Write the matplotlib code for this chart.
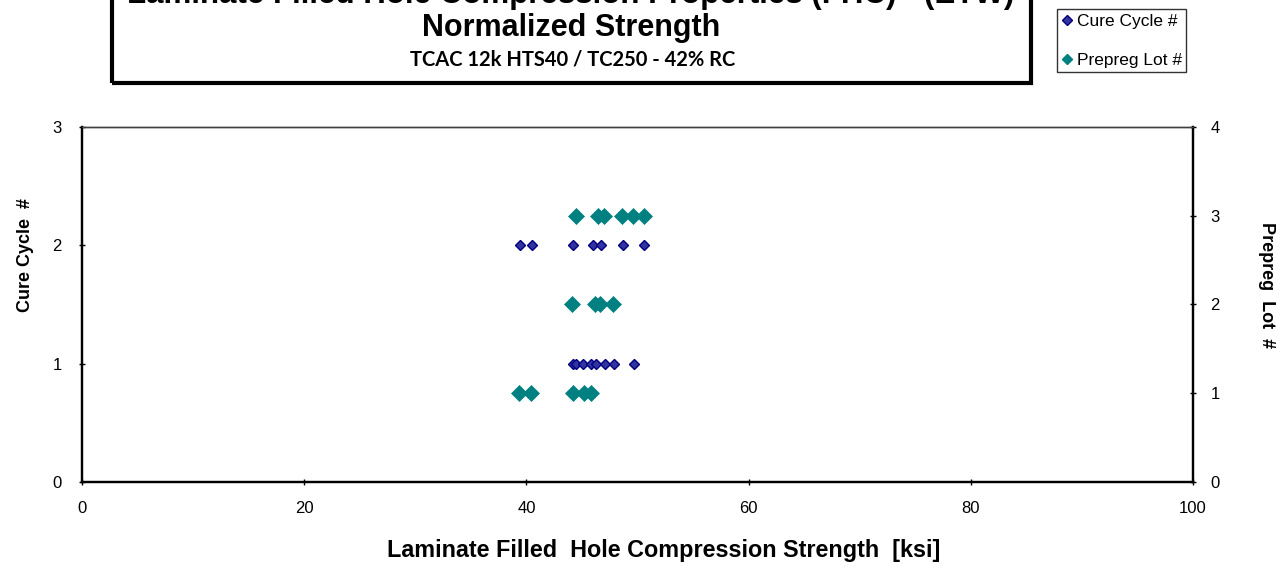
import matplotlib
matplotlib.use("Agg")
import matplotlib.pyplot as plt
from matplotlib.patches import Rectangle
from matplotlib.lines import Line2D

# ---- data ----
cure1_x = [44.2, 44.5, 45.1, 45.8, 46.3, 47.1, 47.9, 49.7]
cure2_x = [39.4, 40.5, 44.2, 46.0, 46.7, 48.7, 50.6]
lot1_x = [39.3, 40.4, 44.2, 45.2, 45.8]
lot2_x = [44.1, 46.2, 46.6, 47.8]
lot3_x = [44.5, 46.4, 47.0, 48.6, 49.6, 50.6]

cure_x = cure1_x + cure2_x
cure_y = [1] * len(cure1_x) + [2] * len(cure2_x)
lot_x = lot1_x + lot2_x + lot3_x
lot_y = [1] * len(lot1_x) + [2] * len(lot2_x) + [3] * len(lot3_x)

x_ticks = [0, 20, 40, 60, 80, 100]
left_ticks = [0, 1, 2, 3]
right_ticks = [0, 1, 2, 3, 4]

title1 = "Laminate Filled Hole Compression Properties (FHC) - (ETW)"
title2 = "Normalized Strength"
subtitle = "TCAC 12k HTS40 / TC250 - 42% RC"
xlabel = "Laminate Filled  Hole Compression Strength  [ksi]"
ylabel_left = "Cure Cycle  #"
ylabel_right = "Prepreg  Lot  #"
legend_labels = ["Cure Cycle #", "Prepreg Lot #"]

plt.rcParams['font.family'] = ['Liberation Sans', 'DejaVu Sans']

W, H = 1283, 570
fig = plt.figure(figsize=(W / 100, H / 100), dpi=100)
AXW, AXH = 1193 - 82, 482 - 127
ax = fig.add_axes([82 / W, 1 - 482 / H, AXW / W, AXH / H])
ax2 = ax.twinx()

navy_edge = '#000080'
navy_fill = '#3333a0'
teal = '#008080'

ax.plot(cure_x, cure_y, linestyle='none', marker='D', markersize=5.6,
        markerfacecolor=navy_fill, markeredgecolor=navy_edge, markeredgewidth=1.0,
        zorder=3)
ax2.plot(lot_x, lot_y, linestyle='none', marker='D', markersize=8.3,
         markerfacecolor=teal, markeredgecolor=teal, markeredgewidth=0.5,
         zorder=3)

ax.set_xlim(0, 100)
ax.set_ylim(0, 3)
ax2.set_ylim(0, 4)
ax.set_xticks(x_ticks)
ax.set_yticks(left_ticks)
ax2.set_yticks(right_ticks)

for a in (ax, ax2):
    for s in a.spines.values():
        s.set_linewidth(1.0)
        s.set_color('#404040')
    for side in ('left', 'bottom', 'right'):
        a.spines[side].set_color('black')
        a.spines[side].set_linewidth(1.6)
    a.tick_params(direction='inout', length=5, width=1.0, labelsize=12)
ax.tick_params(axis='x', pad=11)
ax.tick_params(axis='y', pad=12)
ax2.tick_params(axis='y', pad=10)

ax.set_xlabel(xlabel, fontsize=16.8, fontweight='bold')
ax.xaxis.label.set_va('center')
ax.xaxis.set_label_coords((664 - 82) / AXW, (482 - 551) / AXH)
ax.set_ylabel(ylabel_left, fontsize=13, fontweight='bold')
ax.yaxis.set_label_coords(-48 / AXW, (482 - 255) / AXH)
ax2.set_ylabel(ylabel_right, fontsize=13, fontweight='bold', rotation=270, va='center')
ax2.yaxis.set_label_coords(1 + 74 / AXW, (482 - 285) / AXH)

# title box
fig.patches.append(Rectangle((112 / W, 1 - 83 / H), (1031 - 112) / W, 100 / H,
                             transform=fig.transFigure, fill=False,
                             edgecolor='black', linewidth=3, clip_on=False))
fig.text(571 / W, 1 - (-5) / H, title1, ha='center', va='center',
         fontsize=22.5, fontweight='bold',
         family=['Liberation Sans Narrow', 'Liberation Sans', 'DejaVu Sans'])
fig.text(571 / W, 1 - 28 / H, title2, ha='center', va='center',
         fontsize=22, fontweight='bold',
         family=['Liberation Sans Narrow', 'Liberation Sans', 'DejaVu Sans'])
fig.text(573 / W, 1 - 59 / H, subtitle, ha='center', va='center',
         fontsize=14.5, fontweight='bold',
         family=['Lato', 'DejaVu Sans'])

# legend
handles = [Line2D([], [], linestyle='none', marker='D', markersize=5,
                  markerfacecolor=navy_fill, markeredgecolor=navy_edge),
           Line2D([], [], linestyle='none', marker='D', markersize=5,
                  markerfacecolor=teal, markeredgecolor=teal)]
leg = fig.legend(handles, legend_labels, loc='lower left',
                 bbox_to_anchor=(1057 / W, 1 - 72 / H), fontsize=12.5,
                 frameon=True, fancybox=False, edgecolor='black',
                 labelspacing=1.36, handlelength=0.6, handletextpad=0.3,
                 borderpad=0.25, borderaxespad=0)
leg.get_frame().set_linewidth(1.0)

fig.savefig('out.png', dpi=100)
